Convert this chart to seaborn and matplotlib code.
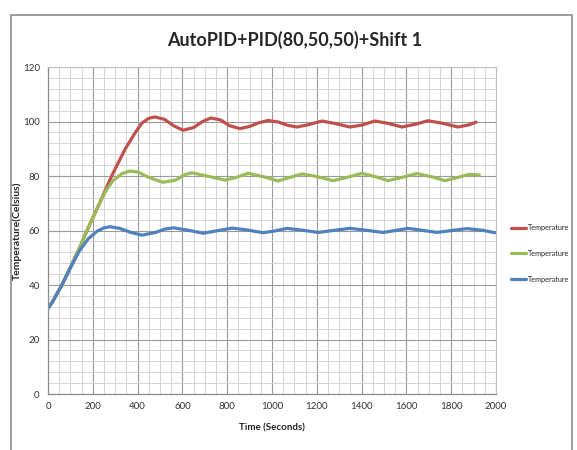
import matplotlib
matplotlib.use("Agg")
import matplotlib.pyplot as plt
import pandas as pd
import seaborn as sns
from matplotlib.patches import Rectangle
from matplotlib.ticker import MultipleLocator

# ── Data (time in s, temperature in °C) ──────────────────────────────────────
red_t = [0, 20, 40, 62, 100, 140, 174, 230, 284, 345, 390, 420, 450, 478, 520,
         560, 603, 650, 690, 727, 770, 810, 857, 900, 940, 982, 1030, 1070,
         1111, 1160, 1223, 1280, 1348, 1400, 1460, 1520, 1580, 1640, 1696,
         1760, 1830, 1880, 1911]
red_v = [31.5, 33.8, 36.8, 40, 46.5, 53.5, 60, 70, 80, 90, 96, 99.5, 101.2,
         101.7, 100.8, 98.5, 96.8, 97.8, 100, 101.3, 100.6, 98.5, 97.4, 98.2,
         99.5, 100.4, 99.8, 98.6, 98, 98.8, 100.2, 99.3, 98, 98.7, 100.2, 99.3,
         98, 99, 100.3, 99.4, 98, 98.8, 99.8]

green_t = [0, 20, 40, 62, 100, 140, 174, 230, 260, 290, 330, 366, 400, 450,
           513, 570, 610, 643, 710, 790, 840, 893, 960, 1027, 1080, 1134, 1200,
           1272, 1340, 1401, 1460, 1518, 1580, 1647, 1710, 1772, 1830, 1880,
           1925]
green_v = [31.5, 33.8, 36.8, 40, 46.5, 53.5, 60, 70, 74.8, 78.3, 80.9, 81.8,
           81.5, 79.5, 77.7, 78.5, 80.5, 81.2, 80, 78.5, 79.5, 81, 79.8, 78.2,
           79.5, 80.8, 79.8, 78.3, 79.6, 81, 79.8, 78.3, 79.5, 80.9, 79.8, 78.3,
           79.5, 80.6, 80.4]

blue_t = [0, 20, 40, 62, 100, 140, 180, 220, 250, 277, 320, 370, 420, 480, 520,
          560, 620, 693, 760, 822, 890, 960, 1010, 1067, 1130, 1205, 1280, 1348,
          1420, 1496, 1550, 1607, 1670, 1737, 1800, 1870, 1940, 1996]
blue_v = [31.5, 33.8, 36.8, 40, 46.3, 52.5, 57, 59.8, 61, 61.4, 60.8, 59.3,
          58.3, 59.3, 60.5, 61, 60.2, 59, 60, 60.9, 60.2, 59.2, 59.8, 60.8, 60.2,
          59.3, 60.1, 60.8, 60.1, 59.3, 60, 60.8, 60.1, 59.3, 60, 60.7, 60.1,
          59.2]

series_names = ["Temperature", "Temperature", "Temperature"]
series_colors = ["#c0504d", "#9bbb59", "#4f81bd"]

sns.set_style("white")
plt.rcParams["font.family"] = ["Lato", "DejaVu Sans"]

fig = plt.figure(figsize=(5.77, 4.5), dpi=100)
ax = fig.add_axes([0.0832, 0.1244, 0.7764, 0.7266])

# outer chart border
fig.patches.append(Rectangle((11 / 577, -0.01), 561 / 577, 440 / 450,
                             transform=fig.transFigure, fill=False,
                             edgecolor="#8c8c8c", linewidth=1.2))

for t, v, name, col in zip([red_t, green_t, blue_t], [red_v, green_v, blue_v],
                           series_names, series_colors):
    df = pd.DataFrame({"time": t, "temp": v})
    sns.lineplot(data=df, x="time", y="temp", ax=ax, color=col,
                 linewidth=2.3, label=name)

ax.set_xlim(0, 2000)
ax.set_ylim(0, 120)
ax.xaxis.set_major_locator(MultipleLocator(200))
ax.xaxis.set_minor_locator(MultipleLocator(50))
ax.yaxis.set_major_locator(MultipleLocator(20))
ax.yaxis.set_minor_locator(MultipleLocator(4))
ax.grid(which="major", color="#9a9a9a", linewidth=0.8)
ax.grid(which="minor", color="#d4d4d4", linewidth=0.7)
ax.set_axisbelow(True)
for side in ["top", "right"]:
    ax.spines[side].set_color("#bfbfbf")
    ax.spines[side].set_linewidth(0.8)
for side in ["left", "bottom"]:
    ax.spines[side].set_color("#8c8c8c")
    ax.spines[side].set_linewidth(0.9)
ax.tick_params(axis="both", which="both", length=0, labelsize=7,
               colors="#333333", pad=6)

ax.set_xlabel("Time (Seconds)", fontsize=7, fontweight="bold", labelpad=9)
ax.set_ylabel("Temperature(Celsius)", fontsize=7.5, fontweight="bold")
ax.yaxis.set_label_coords(-0.058, 0.5)
fig.text(0.511, 0.911, "AutoPID+PID(80,50,50)+Shift 1", ha="center",
         va="center", fontsize=13, fontweight="bold")

ax.legend(loc="center left", bbox_to_anchor=(1.02, 0.43), frameon=False,
          fontsize=5.2, handlelength=2.0, handletextpad=0.25,
          labelspacing=2.6)

fig.savefig("out.png", dpi=100)
